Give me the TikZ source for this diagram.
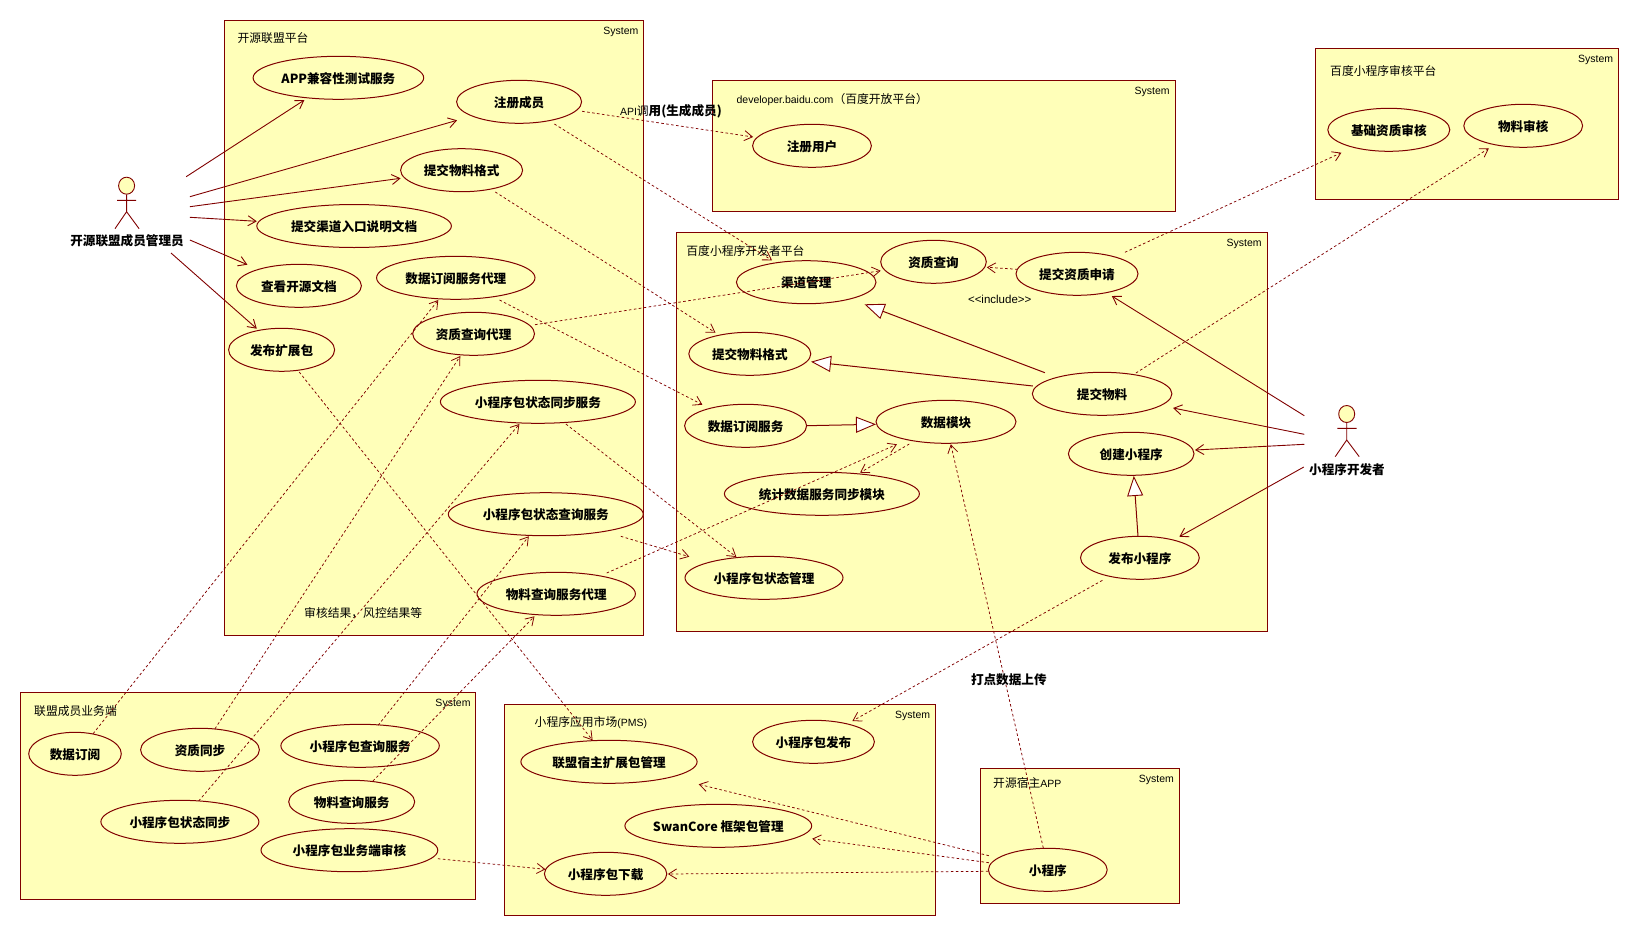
\documentclass[tikz,border=0pt]{standalone}
\usepackage{fontspec}
\setmainfont{Liberation Sans}
\newfontfamily\cjk{Noto Sans CJK SC}
\usetikzlibrary{arrows.meta,calc,shapes.geometric}
\definecolor{umlline}{RGB}{128,0,0}
\definecolor{umlfill}{RGB}{255,255,185}
\newcommand{\ucfont}{\fontsize{12.6}{14}\selectfont\cjk\bfseries}
\newcommand{\lbfont}{\fontsize{11.8}{14}\selectfont\cjk}
\newcommand{\sysfont}{\fontsize{10.5}{12}\selectfont}
\tikzset{
  sysbox/.style={draw=umlline,fill=umlfill,line width=1pt,rectangle,inner sep=0pt,outer sep=0pt},
  uc/.style={draw=umlline,fill=umlfill,line width=1pt,ellipse,inner sep=0pt,outer sep=0pt,font=\ucfont,text=black,minimum height=43pt,text height=12pt,text depth=1.5pt},
  lb/.style={inner sep=0pt,font=\lbfont,text=black,anchor=west},
  lbc/.style={inner sep=0pt,font=\lbfont,text=black},
  bl/.style={inner sep=0pt,font=\ucfont,text=black},
  sys/.style={inner sep=0pt,font=\sysfont,text=black,anchor=east},
  assoc/.style={draw=umlline,line width=0.9pt,-{Straight Barb[length=8pt,width=10pt,line width=0.9pt]}},
  dep/.style={draw=umlline,line width=0.75pt,dash pattern=on 2.6pt off 2.4pt,-{Straight Barb[length=8pt,width=10pt,line width=0.8pt,sep=0pt]}},
  gen/.style={draw=umlline,line width=1pt,-{Triangle[length=20pt,width=16pt,fill=white,line width=0.9pt]}},
  stick/.style={draw=umlline,line width=0.9pt},
  head/.style={draw=umlline,fill=umlfill,line width=0.9pt,ellipse,inner sep=0pt,minimum width=16pt,minimum height=17pt},
}
\begin{document}
\begin{tikzpicture}[x=1pt,y=-1pt]
\useasboundingbox (0,0) rectangle (1641,937);
% systems
\node[sysbox,minimum width=418.9pt,minimum height=615pt] (s1) at (433.85,327.8) {};
\node[sysbox,minimum width=462.7pt,minimum height=131pt] (s2) at (943.65,145.8) {};
\node[sysbox,minimum width=590.2pt,minimum height=399pt] (s3) at (971.9,431.8) {};
\node[sysbox,minimum width=302.8pt,minimum height=151pt] (s4) at (1467.2,123.8) {};
\node[sysbox,minimum width=455pt,minimum height=207pt] (s5) at (247.9,795.8) {};
\node[sysbox,minimum width=430.9pt,minimum height=211pt] (s6) at (720.15,809.8) {};
\node[sysbox,minimum width=198.7pt,minimum height=135pt] (s7) at (1079.95,835.8) {};
% system texts
\node[sys] (s1t) at (638.6,32.3) {System};
\node[sys] (s2t) at (1169.9,92.3) {System};
\node[sys] (s3t) at (1261.9,244.3) {System};
\node[sys] (s4t) at (1613.4,60.3) {System};
\node[sys] (s5t) at (470.7,704.3) {System};
\node[sys] (s6t) at (930.4,716.3) {System};
\node[sys] (s7t) at (1174.1,780.3) {System};
\node[lb] (s1n) at (237.4,38.5) {开源联盟平台};
\node[lb] (s2n) at (736.4,99.5) {{\sysfont\rmfamily developer.baidu.com}（百度开放平台）};
\node[lb] (s3n) at (686.2,251) {百度小程序开发者平台};
\node[lb] (s4n) at (1330,70.7) {百度小程序审核平台};
\node[lb] (s5n) at (34,711) {联盟成员业务端};
\node[lb] (s6n) at (534.5,723) {小程序应用市场{\sysfont\rmfamily (PMS)}};
\node[lb] (s7n) at (993,783) {开源宿主{\sysfont\rmfamily APP}};
% use cases: alliance platform
\node[uc,minimum width=170.6pt] (app) at (338.4,77.8) {APP兼容性测试服务};
\node[uc,minimum width=125pt] (reg) at (519.1,101.8) {注册成员};
\node[uc,minimum width=122pt] (fmt) at (461.6,170.2) {提交物料格式};
\node[uc,minimum width=194.6pt] (entry) at (354.1,226) {提交渠道入口说明文档};
\node[uc,minimum width=125pt] (docs) at (298.9,285.8) {查看开源文档};
\node[uc,minimum width=158.4pt] (subp) at (455.8,277.8) {数据订阅服务代理};
\node[uc,minimum width=121.8pt] (qualp) at (473.6,333.8) {资质查询代理};
\node[uc,minimum width=106pt] (ext) at (281.6,349.8) {发布扩展包};
\node[uc,minimum width=195pt] (syncsvc) at (537.9,401.8) {小程序包状态同步服务};
\node[uc,minimum width=195pt] (querysvc) at (545.8,514.2) {小程序包状态查询服务};
\node[uc,minimum width=158.4pt] (matp) at (556.2,593.8) {物料查询服务代理};
% member side
\node[uc,minimum width=92.6pt] (msub) at (75,753.8) {数据订阅};
\node[uc,minimum width=118.8pt] (mqual) at (200,749.8) {资质同步};
\node[uc,minimum width=158.4pt] (mquery) at (360.1,745.8) {小程序包查询服务};
\node[uc,minimum width=126pt] (mmat) at (351.7,801.8) {物料查询服务};
\node[uc,minimum width=158pt] (msync) at (179.9,821.8) {小程序包状态同步};
\node[uc,minimum width=176.8pt] (maudit) at (349.4,850.2) {小程序包业务端审核};
% PMS
\node[uc,minimum width=176.2pt] (hostext) at (609,761.8) {联盟宿主扩展包管理};
\node[uc,minimum width=121.8pt] (pub) at (813.5,741.8) {小程序包发布};
\node[uc,minimum width=186.8pt] (swan) at (718.3,825.8) {SwanCore 框架包管理};
\node[uc,minimum width=122.4pt] (dl) at (605.6,873.8) {小程序包下载};
% host app
\node[uc,minimum width=118.8pt] (mini) at (1047.8,869.8) {小程序};
% developer platform
\node[uc,minimum width=139.6pt] (chan) at (806.2,282.2) {渠道管理};
\node[uc,minimum width=105.6pt] (qual) at (933.5,261.8) {资质查询};
\node[uc,minimum width=122pt] (qualapp) at (1077,273.8) {提交资质申请};
\node[uc,minimum width=122pt] (dfmt) at (749.8,353.8) {提交物料格式};
\node[uc,minimum width=139.6pt] (mat) at (1102.1,393.8) {提交物料};
\node[uc,minimum width=122pt] (dsub) at (745.6,425.8) {数据订阅服务};
\node[uc,minimum width=140pt] (data) at (946,421.8) {数据模块};
\node[uc,minimum width=125.6pt] (create) at (1131.2,453.8) {创建小程序};
\node[uc,minimum width=195pt] (stat) at (821.9,493.8) {统计数据服务同步模块};
\node[uc,minimum width=158pt] (pstate) at (764,577.8) {小程序包状态管理};
\node[uc,minimum width=118.8pt] (release) at (1139.9,557.8) {发布小程序};
% audit and open platform
\node[uc,minimum width=122pt] (abase) at (1388.8,129.8) {基础资质审核};
\node[uc,minimum width=118.8pt] (amat) at (1523.2,125.8) {物料审核};
\node[uc,minimum width=118.8pt] (user) at (812,145.8) {注册用户};
% actor 1
\node[head] (h1) at (126.6,185.7) {};
\coordinate (h1hip) at (126.6,211.7);
\coordinate (h1al) at (117.2,200.3);
\coordinate (h1ar) at (136,200.3);
\coordinate (h1ll) at (115,228.7);
\coordinate (h1lr) at (139.1,228.7);
\draw[stick] (h1.south) -- (h1hip) (h1al) -- (h1ar) (h1ll) -- (h1hip) -- (h1lr);
\node[bl] (actor1) at (127,240.2) {开源联盟成员管理员};
% actor 2
\node[head] (h2) at (1346.7,414) {};
\coordinate (h2hip) at (1346.7,440);
\coordinate (h2al) at (1337.3,428.3);
\coordinate (h2ar) at (1356.6,428.3);
\coordinate (h2ll) at (1335.2,456.7);
\coordinate (h2lr) at (1359.2,456.7);
\draw[stick] (h2.south) -- (h2hip) (h2al) -- (h2ar) (h2ll) -- (h2hip) -- (h2lr);
\node[bl] (actor2) at (1347,469.2) {小程序开发者};
% actor free ends
\coordinate (a1) at (186.2,176.7);
\coordinate (a2) at (189.9,196.7);
\coordinate (a3) at (189.9,206.7);
\coordinate (a4) at (189.9,217.3);
\coordinate (a5) at (189.9,240);
\coordinate (a6) at (171,253);
\coordinate (b1) at (1304.3,415.7);
\coordinate (b2) at (1304.3,434.3);
\coordinate (b3) at (1304.3,444.3);
\coordinate (b4) at (1303.8,467);
% associations
\draw[assoc] (a1) -- ($(app)+(-34,22.2)$);
\draw[assoc] (a2) -- ($(reg)+(-62,18.5)$);
\draw[assoc] (a3) -- ($(fmt)+(-61,8.1)$);
\draw[assoc] (a4) -- ($(entry)+(-97.3,-4.7)$);
\draw[assoc] (a5) -- ($(docs)+(-51.5,-21.1)$);
\draw[assoc] (a6) -- ($(ext)+(-24.8,-21.1)$);
\draw[assoc] (b1) -- ($(qualapp)+(34.8,22.2)$);
\draw[assoc] (b2) -- ($(mat)+(70.9,14.2)$);
\draw[assoc] (b3) -- ($(create)+(63.8,-3.8)$);
\draw[assoc] (b4) -- ($(release)+(39.4,-21.1)$);
% generalisations
\draw[gen] ($(mat)+(-57.2,-21.1)$) -- ($(chan)+(58.3,22.1)$);
\draw[gen] ($(mat)+(-69.2,-7.8)$) -- ($(dfmt)+(61.2,7.9)$);
\draw[gen] ($(dsub)+(60.9,-0.1)$) -- ($(data)+(-70,2.5)$);
\draw[gen] ($(release)+(-1.9,-21.5)$) -- ($(create)+(2.6,22.2)$);
% dependencies
\draw[dep] ($(reg)+(63,9.5)$) -- ($(user)+(-58.9,-8.8)$);
\draw[dep] ($(reg)+(35.3,22.2)$) -- ($(chan)+(-34.2,-21.9)$);
\draw[dep] ($(fmt)+(33.7,21.8)$) -- ($(dfmt)+(-34.3,-21.1)$);
\draw[dep] ($(subp)+(43.7,22.2)$) -- ($(dsub)+(-43.2,-21.1)$);
\draw[dep] ($(qualp)+(61.4,-9.1)$) -- ($(qual)+(-52.8,8.9)$);
\draw[dep] ($(qualapp)+(-59.3,-4.5)$) -- ($(qual)+(53.3,5.5)$);
\draw[dep] ($(qualapp)+(47.9,-21.5)$) -- ($(abase)+(-47.4,22.9)$);
\draw[dep] ($(mat)+(33.8,-20.8)$) -- ($(amat)+(-34.3,22.5)$);
\draw[dep] ($(syncsvc)+(28,22.2)$) -- ($(pstate)+(-27.6,-20.8)$);
\draw[dep] ($(querysvc)+(75,22.1)$) -- ($(pstate)+(-74.7,-21.1)$);
\draw[dep] ($(matp)+(50.5,-20.8)$) -- ($(data)+(-49.1,22.5)$);
\draw[dep] ($(data)+(-36.7,22.2)$) -- ($(stat)+(38.1,-21.1)$);
\draw[dep] ($(msub)+(18.1,-20.1)$) -- ($(subp)+(-17.5,22.2)$);
\draw[dep] ($(mqual)+(15,-21.1)$) -- ($(qualp)+(-13.3,22.2)$);
\draw[dep] ($(msync)+(18.8,-20.8)$) -- ($(syncsvc)+(-18.5,22.2)$);
\draw[dep] ($(mquery)+(18,-20.5)$) -- ($(querysvc)+(-17,22.1)$);
\draw[dep] ($(mmat)+(21.2,-20.8)$) -- ($(matp)+(-21.7,22.5)$);
\draw[dep] ($(ext)+(17.6,22.2)$) -- ($(hostext)+(-16.4,-21.5)$);
\draw[dep] ($(maudit)+(88.4,8.5)$) -- ($(dl)+(-60.1,-4.5)$);
\draw[dep] ($(release)+(-37.5,22.5)$) -- ($(pub)+(38.9,-20.8)$);
\draw[dep] ($(mini)+(-4.5,-21.8)$) -- ($(data)+(4.8,22.5)$);
\draw[dep] ($(mini)+(-58.9,-14.1)$) -- ($(hostext)+(89.7,22.5)$);
\draw[dep] ($(mini)+(-58.9,-7.1)$) -- ($(swan)+(93.9,12.9)$);
\draw[dep] ($(mini)+(-59.4,1.5)$) -- ($(dl)+(62.3,0.2)$);
% connector labels
\node[lb] (apilabel) at (619.8,111) {{\sysfont\rmfamily API}调{\ucfont 用(生成成员)}};
\node[lbc] (inc) at (999.7,299) {{\fontsize{11.5}{13}\selectfont\rmfamily <{}<include>{}>}};
\node[lbc] (auditres) at (363.2,612.7) {审核结果，风控结果等};
\node[bl] (upload) at (1008.8,679.7) {打点数据上传};
\end{tikzpicture}
\end{document}
